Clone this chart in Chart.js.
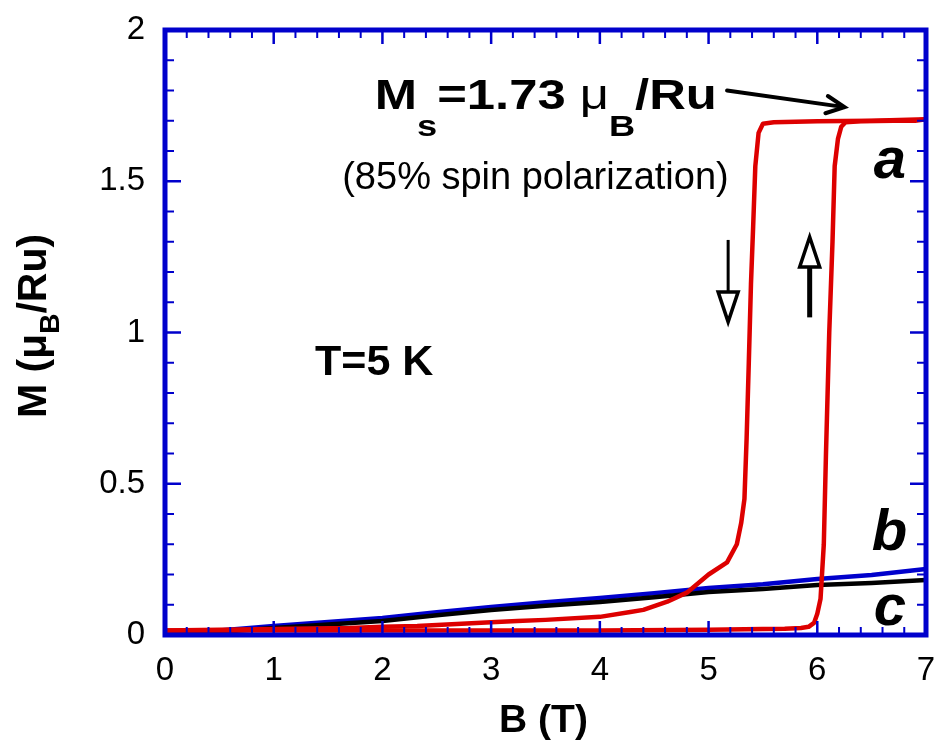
<!DOCTYPE html>
<html>
<head>
<meta charset="utf-8">
<script src="https://cdn.jsdelivr.net/npm/chart.js@4.4.0/dist/chart.umd.min.js"></script>
<style>
  html, body { margin: 0; padding: 0; background: #fff; }
  #wrap { width: 942px; height: 751px; }
</style>
</head>
<body>
<div id="wrap"><canvas id="chart" width="942" height="751"></canvas></div>
<script>
// curve a, field going up (B in T, M in muB/Ru)
const aUpB = [0, 1, 2, 3, 4, 5, 5.5, 5.7, 5.85, 5.92, 5.97, 6.0, 6.03, 6.06, 6.08, 6.11, 6.14, 6.16, 6.19, 6.22, 6.26, 6.4, 6.7, 6.9, 7.0];
const aUpM = [0.015, 0.015, 0.015, 0.015, 0.015, 0.017, 0.02, 0.021, 0.023, 0.027, 0.04, 0.07, 0.12, 0.3, 0.6, 1.0, 1.3, 1.55, 1.64, 1.68, 1.695, 1.698, 1.70, 1.70, 1.705];

// curve a, field going back down
const aDownB = [7.0, 6.5, 6.0, 5.6, 5.5, 5.46, 5.43, 5.41, 5.39, 5.37, 5.35, 5.33, 5.30, 5.26, 5.17, 5.0, 4.8, 4.62, 4.4, 4.28, 4.0, 3.5, 3.24, 3.0, 2.32, 2.0, 1.7, 1.0, 0.5, 0];
const aDownM = [1.705, 1.70, 1.698, 1.695, 1.69, 1.66, 1.55, 1.35, 1.16, 0.9, 0.65, 0.45, 0.37, 0.30, 0.24, 0.20, 0.14, 0.11, 0.083, 0.076, 0.06, 0.05, 0.046, 0.042, 0.03, 0.027, 0.023, 0.02, 0.017, 0.015];

// curves b and c
const bcB = [0, 0.5, 1, 1.5, 2, 2.5, 3, 3.5, 4, 4.5, 5, 5.5, 6, 6.5, 7];
const bM = [0.0, 0.015, 0.03, 0.043, 0.056, 0.075, 0.093, 0.108, 0.122, 0.138, 0.155, 0.168, 0.185, 0.198, 0.218];
const cM = [0.0, 0.01, 0.023, 0.035, 0.046, 0.065, 0.083, 0.097, 0.109, 0.125, 0.142, 0.152, 0.165, 0.172, 0.182];

const xTicks = [0, 1, 2, 3, 4, 5, 6, 7];
const yTicks = [0, 0.5, 1, 1.5, 2];

const FONT = '"Liberation Sans", Arial, Helvetica, sans-serif';
const AXIS_BLUE = '#0000cc';
const RED = '#dd0000';

function pts(xs, ys) {
  return xs.map((x, i) => ({ x: x, y: ys[i] }));
}

// text made of pieces with their own font and vertical shift (subscripts)
function partsWidth(ctx, parts) {
  let w = 0;
  parts.forEach(p => { ctx.font = p.font; w += ctx.measureText(p.t).width; });
  return w;
}
function drawParts(ctx, parts, x, y) {
  let cx = x;
  parts.forEach(p => {
    ctx.font = p.font;
    ctx.fillText(p.t, cx, y + (p.dy || 0));
    cx += ctx.measureText(p.t).width;
  });
}

function openHeadArrow(ctx, x, y1, y2, w, h, lw) {
  // vertical arrow from y1 to y2 with a hollow triangle head at y2
  const dir = y2 > y1 ? 1 : -1;
  const base = y2 - dir * h;
  ctx.lineWidth = lw;
  ctx.beginPath();
  ctx.moveTo(x, y1);
  ctx.lineTo(x, base);
  ctx.stroke();
  ctx.lineWidth = 3.5;
  ctx.lineJoin = 'miter';
  ctx.beginPath();
  ctx.moveTo(x - w / 2, base);
  ctx.lineTo(x + w / 2, base);
  ctx.lineTo(x, y2);
  ctx.closePath();
  ctx.stroke();
}

// no automatic padding around the scales, the plot box is fixed
function noPadding(s) {
  s.paddingLeft = 0; s.paddingRight = 0; s.paddingTop = 0; s.paddingBottom = 0;
}

const decorations = {
  id: 'decorations',
  afterDatasetsDraw(chart) {
    const { ctx, chartArea: a, scales: { x, y } } = chart;
    const px = v => x.getPixelForValue(v);
    const py = v => y.getPixelForValue(v);
    ctx.save();

    // inward ticks on all four sides
    ctx.strokeStyle = AXIS_BLUE;
    for (let i = 0; i <= 35; i++) {
      const v = i / 5;
      const major = i % 5 === 0;
      const len = major ? 14 : 8;
      ctx.lineWidth = major ? 2.5 : 2;
      const xx = px(v);
      ctx.beginPath();
      ctx.moveTo(xx, a.bottom); ctx.lineTo(xx, a.bottom - len);
      ctx.moveTo(xx, a.top); ctx.lineTo(xx, a.top + len);
      ctx.stroke();
    }
    for (let i = 0; i <= 20; i++) {
      const v = i / 10;
      const major = i % 5 === 0;
      const len = major ? 16 : 9;
      ctx.lineWidth = major ? 2.5 : 2;
      const yy = py(v);
      ctx.beginPath();
      ctx.moveTo(a.left, yy); ctx.lineTo(a.left + len, yy);
      ctx.moveTo(a.right, yy); ctx.lineTo(a.right - len, yy);
      ctx.stroke();
    }

    // frame
    ctx.lineWidth = 5;
    ctx.strokeRect(a.left, a.top, a.right - a.left, a.bottom - a.top);

    ctx.fillStyle = '#000';
    ctx.strokeStyle = '#000';

    // axis titles
    ctx.textBaseline = 'middle';
    ctx.textAlign = 'center';
    ctx.font = 'bold 39px ' + FONT;
    ctx.fillText('B (T)', (a.left + a.right) / 2 - 2, 721);

    ctx.textAlign = 'left';
    ctx.textBaseline = 'alphabetic';
    const yTitle = [
      { t: 'M (\u03bc', font: 'bold 41px ' + FONT },
      { t: 'B', font: 'bold 28px ' + FONT, dy: 13 },
      { t: '/Ru)', font: 'bold 41px ' + FONT }
    ];
    ctx.save();
    ctx.translate(46, 326);
    ctx.rotate(-Math.PI / 2);
    drawParts(ctx, yTitle, -partsWidth(ctx, yTitle) / 2, 0);
    ctx.restore();

    // saturation annotation, set a little wide
    const msLabel = [
      { t: 'M', font: 'bold 42px ' + FONT },
      { t: 's', font: 'bold 30px ' + FONT, dy: 27 },
      { t: '=1.73 ', font: 'bold 42px ' + FONT },
      { t: '\u03bc', font: '42px ' + FONT },
      { t: 'B', font: 'bold 30px ' + FONT, dy: 27 },
      { t: '/Ru', font: 'bold 42px ' + FONT }
    ];
    ctx.save();
    ctx.translate(px(1.93), py(1.74));
    ctx.scale(342 / partsWidth(ctx, msLabel), 1);
    drawParts(ctx, msLabel, 0, 0);
    ctx.restore();

    ctx.font = '38px ' + FONT;
    ctx.textBaseline = 'middle';
    ctx.fillText('(85% spin polarization)', px(1.63), py(1.51));

    ctx.textBaseline = 'alphabetic';
    ctx.font = 'bold 43px ' + FONT;
    ctx.fillText('T=5 K', px(1.38), py(0.86));

    ctx.font = 'italic bold 58px ' + FONT;
    ctx.fillText('a', px(6.52), py(1.51));
    ctx.fillText('b', px(6.5), py(0.281));
    ctx.fillText('c', px(6.52), py(0.033));

    // arrow pointing at the saturated plateau
    const x1 = px(5.17), y1 = py(1.8), x2 = px(6.25), y2 = py(1.745);
    const ang = Math.atan2(y2 - y1, x2 - x1);
    ctx.lineWidth = 4;
    ctx.lineCap = 'round';
    ctx.beginPath();
    ctx.moveTo(x1, y1); ctx.lineTo(x2, y2);
    ctx.moveTo(x2 - 20 * Math.cos(ang - 0.45), y2 - 20 * Math.sin(ang - 0.45));
    ctx.lineTo(x2, y2);
    ctx.lineTo(x2 - 20 * Math.cos(ang + 0.45), y2 - 20 * Math.sin(ang + 0.45));
    ctx.stroke();
    ctx.lineCap = 'butt';

    // sweep direction arrows
    openHeadArrow(ctx, px(5.18), py(1.306), py(1.035), 20, 30, 3);
    openHeadArrow(ctx, px(5.93), py(1.05), py(1.316), 20, 30, 5);

    ctx.restore();
  }
};

const lineStyle = {
  showLine: true,
  pointRadius: 0,
  borderWidth: 4.5,
  tension: 0,
  fill: false,
  borderJoinStyle: 'round',
  borderCapStyle: 'round'
};

new Chart(document.getElementById('chart').getContext('2d'), {
  type: 'scatter',
  data: {
    datasets: [
      Object.assign({ label: 'a up', data: pts(aUpB, aUpM), borderColor: RED }, lineStyle),
      Object.assign({ label: 'a down', data: pts(aDownB, aDownM), borderColor: RED }, lineStyle),
      Object.assign({ label: 'c', data: pts(bcB, cM), borderColor: '#000' }, lineStyle),
      Object.assign({ label: 'b', data: pts(bcB, bM), borderColor: AXIS_BLUE }, lineStyle)
    ]
  },
  options: {
    responsive: false,
    animation: false,
    events: [],
    layout: { padding: { left: 0, top: 30, right: 16, bottom: 0 } },
    plugins: {
      legend: { display: false },
      tooltip: { enabled: false }
    },
    scales: {
      x: {
        type: 'linear',
        min: 0,
        max: 7,
        afterBuildTicks: s => { s.ticks = xTicks.map(v => ({ value: v })); },
        afterFit: s => { s.height = 116; noPadding(s); },
        grid: { display: false, drawTicks: false },
        border: { display: false },
        ticks: { color: '#000', font: { family: FONT, size: 33 }, padding: 16, maxRotation: 0, callback: v => String(v) }
      },
      y: {
        type: 'linear',
        min: 0,
        max: 2,
        afterBuildTicks: s => { s.ticks = yTicks.map(v => ({ value: v })); },
        afterFit: s => { s.width = 165; noPadding(s); },
        grid: { display: false, drawTicks: false },
        border: { display: false },
        ticks: { color: '#000', font: { family: FONT, size: 33 }, padding: 20, callback: v => String(v) }
      }
    }
  },
  plugins: [decorations]
});
</script>
</body>
</html>
